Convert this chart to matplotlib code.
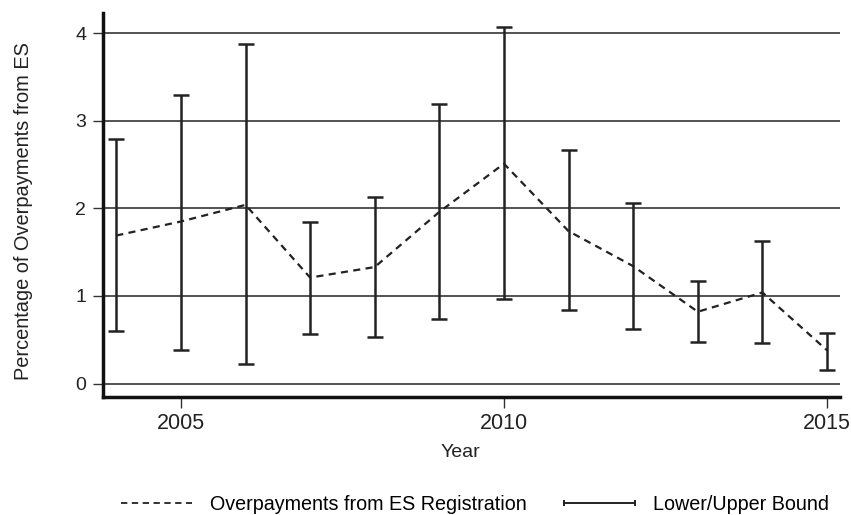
import numpy as np
import matplotlib.pyplot as plt
from matplotlib.lines import Line2D

plt.rcParams['font.family'] = ['Liberation Sans', 'DejaVu Sans']

years = [2004, 2005, 2006, 2007, 2008, 2009, 2010, 2011, 2012, 2013, 2014, 2015]
overpay = [1.69, 1.85, 2.04, 1.21, 1.33, 1.96, 2.51, 1.74, 1.34, 0.82, 1.04, 0.38]
lower = [0.60, 0.38, 0.22, 0.57, 0.53, 0.74, 0.97, 0.84, 0.62, 0.48, 0.46, 0.15]
upper = [2.79, 3.29, 3.88, 1.84, 2.13, 3.19, 4.07, 2.67, 2.06, 1.17, 1.63, 0.58]

years = np.array(years)
overpay = np.array(overpay)
lower = np.array(lower)
upper = np.array(upper)

fig = plt.figure(figsize=(8.51, 5.15), dpi=100)
ax = fig.add_axes([0.1207, 0.2297, 0.8663, 0.745])

# horizontal reference lines
for yv in [0, 1, 2, 3, 4]:
    ax.axhline(yv, color='#444444', lw=1.3, zorder=1)

ax.plot(years, overpay, color='#222222', lw=1.6, ls=(0, (3.2, 2.4)), zorder=3)
ax.errorbar(years, overpay, yerr=[overpay - lower, upper - overpay], fmt='none',
            ecolor='#222222', elinewidth=1.8, capsize=5.5, capthick=1.8, zorder=4)

ax.set_xlim(2003.79, 2015.2)
ax.set_ylim(-0.15, 4.23)
ax.set_xticks([2005, 2010, 2015])
ax.set_yticks([0, 1, 2, 3, 4])
ax.tick_params(axis='both', labelsize=14, length=7, width=1, color='#333333', labelcolor='#222222')
ax.tick_params(axis='x', length=8, pad=4, labelsize=15.5)
ax.tick_params(axis='y', pad=5)

for s in ['top', 'right']:
    ax.spines[s].set_visible(False)
for s in ['left', 'bottom']:
    ax.spines[s].set_linewidth(2.5)
    ax.spines[s].set_color('#111111')

ax.set_xlabel('Year', fontsize=14, color='#222222')
ax.xaxis.set_label_coords(0.485, -0.123)
ax.set_ylabel('Percentage of Overpayments from ES', fontsize=14.4, color='#222222')
ax.yaxis.set_label_coords(-0.095, 0.485)

handles = [Line2D([], [], color='#222222', lw=1.3, ls=(0, (3.5, 2.5))),
           Line2D([], [], color='#222222', lw=1.4, marker='|', markersize=5, markeredgewidth=1.4)]
fig.legend(handles, ['Overpayments from ES Registration', 'Lower/Upper Bound'],
           loc='center', bbox_to_anchor=(0.555, 0.02), ncol=2, frameon=False,
           fontsize=14.2, handlelength=4.2, numpoints=2, columnspacing=1.6, handletextpad=0.6)

fig.savefig('out.png', dpi=100)
